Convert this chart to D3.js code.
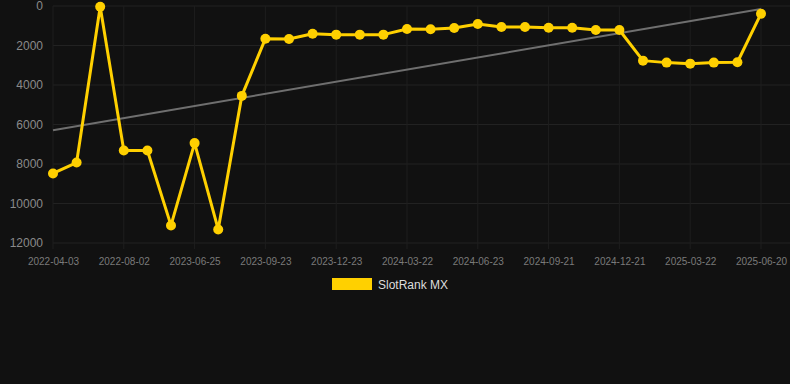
<!DOCTYPE html>
<html>
<head>
<meta charset="utf-8">
<script src="https://cdn.jsdelivr.net/npm/d3@7"></script>
<style>
  html, body { margin: 0; padding: 0; background: #111111; }
  svg { display: block; font-family: "Liberation Sans", Arial, sans-serif; }
</style>
</head>
<body>
<svg id="chart"></svg>
<script>
const dates = [
  "2022-04-03", "2022-05-15", "2022-06-20", "2022-08-02", "2022-09-10", "2023-03-05",
  "2023-06-25", "2023-07-20", "2023-08-25", "2023-09-23", "2023-10-25", "2023-11-25",
  "2023-12-23", "2024-01-25", "2024-02-22", "2024-03-22", "2024-04-22", "2024-05-22",
  "2024-06-23", "2024-07-22", "2024-08-22", "2024-09-21", "2024-10-22", "2024-11-21",
  "2024-12-21", "2025-01-22", "2025-02-20", "2025-03-22", "2025-04-22", "2025-05-21",
  "2025-06-20"
];
const ranks = [
  8480, 7925, 35, 7317, 7317, 11110, 6943, 11312, 4551, 1654, 1669, 1401,
  1451, 1451, 1451, 1163, 1178, 1113, 910, 1062, 1062, 1097, 1097, 1214,
  1214, 2766, 2867, 2918, 2867, 2847, 389
];
const yTicks = [0, 2000, 4000, 6000, 8000, 10000, 12000];
const seriesName = "SlotRank MX";

const width = 790, height = 384;
const margin = { top: 6, right: 29, bottom: 141, left: 53 };
const lineColor = "#ffd000";

const svg = d3.select("#chart").attr("width", width).attr("height", height);

const x = d3.scalePoint()
  .domain(dates)
  .range([margin.left, width - margin.right]);

const y = d3.scaleLinear()
  .domain([0, 12000])
  .range([margin.top, height - margin.bottom]);

// grid
const grid = svg.append("g");
grid.selectAll("line.h")
  .data(yTicks)
  .join("line")
  .attr("class", "h")
  .attr("x1", margin.left)
  .attr("x2", width)
  .attr("y1", (d) => y(d))
  .attr("y2", (d) => y(d))
  .attr("stroke", "#222222")
  .attr("stroke-width", 1);

const labelDates = dates.filter((d, i) => i % 3 === 0);
grid.selectAll("line.v")
  .data(labelDates)
  .join("line")
  .attr("class", "v")
  .attr("x1", (d) => x(d))
  .attr("x2", (d) => x(d))
  .attr("y1", margin.top)
  .attr("y2", y(12000) + 6)
  .attr("stroke", "#1e1e1e")
  .attr("stroke-width", 1);

// y axis
const yAxis = svg.append("g")
  .attr("transform", `translate(${margin.left - 10},0)`)
  .call(d3.axisLeft(y).tickValues(yTicks).tickSize(0).tickPadding(0).tickFormat(d3.format("d")));
yAxis.select(".domain").remove();
yAxis.selectAll("text")
  .attr("fill", "#8a8a8a")
  .attr("font-size", 12)
  .attr("font-family", "Liberation Sans, Arial, sans-serif");

// x axis
const xAxis = svg.append("g")
  .attr("transform", `translate(0,${y(12000) + 7})`)
  .call(d3.axisBottom(x).tickValues(labelDates).tickSize(0).tickPadding(8));
xAxis.select(".domain").remove();
xAxis.selectAll("text")
  .attr("fill", "#7a7a7a")
  .attr("font-size", 10)
  .attr("font-family", "Liberation Sans, Arial, sans-serif");

// trend line (least squares)
const idx = dates.map((d, i) => i);
const meanI = d3.mean(idx);
const meanV = d3.mean(ranks);
const slope = d3.sum(idx, (i) => (i - meanI) * (ranks[i] - meanV)) /
  d3.sum(idx, (i) => (i - meanI) ** 2);
const intercept = meanV - slope * meanI;
const trend = [0, dates.length - 1].map((i) => ({ date: dates[i], value: intercept + slope * i }));

svg.append("path")
  .datum(trend)
  .attr("fill", "none")
  .attr("stroke", "#6f6f6f")
  .attr("stroke-width", 2)
  .attr("d", d3.line().x((d) => x(d.date)).y((d) => y(d.value)));

// series
const points = dates.map((d, i) => ({ date: d, value: ranks[i] }));

svg.append("path")
  .datum(points)
  .attr("fill", "none")
  .attr("stroke", lineColor)
  .attr("stroke-width", 3)
  .attr("stroke-linejoin", "round")
  .attr("d", d3.line().x((d) => x(d.date)).y((d) => y(d.value)));

svg.append("g")
  .selectAll("circle")
  .data(points)
  .join("circle")
  .attr("cx", (d) => x(d.date))
  .attr("cy", (d) => y(d.value))
  .attr("r", 5)
  .attr("fill", lineColor);

// legend
const legend = svg.append("g").attr("transform", "translate(332,278)");
legend.append("rect")
  .attr("width", 40)
  .attr("height", 12)
  .attr("fill", lineColor);
legend.append("text")
  .attr("x", 46)
  .attr("y", 10.5)
  .attr("fill", "#dddddd")
  .attr("font-size", 12)
  .text(seriesName);
</script>
</body>
</html>
